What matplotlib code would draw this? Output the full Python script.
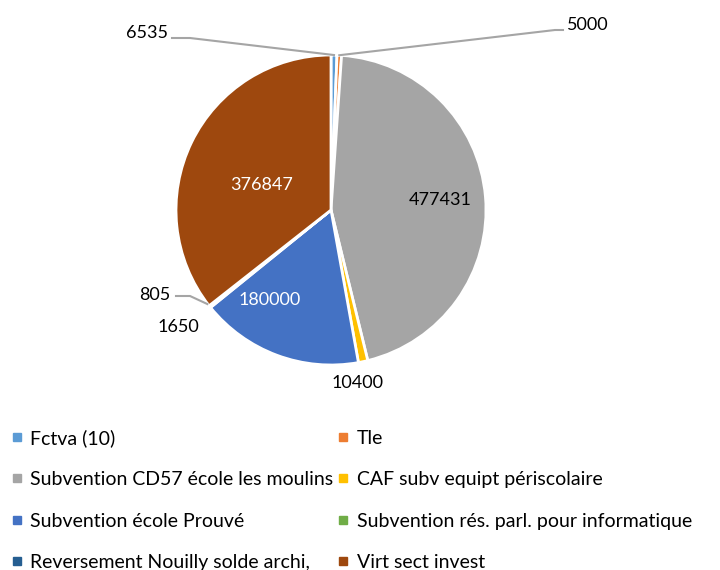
import matplotlib.pyplot as plt
from matplotlib.lines import Line2D
import numpy as np

plt.rcParams['font.family'] = ['Lato', 'DejaVu Sans']

labels = ["Fctva (10)", "Tle", "Subvention CD57 école les moulins",
          "CAF subv equipt périscolaire", "Subvention école Prouvé",
          "Subvention rés. parl. pour informatique",
          "Reversement Nouilly solde archi,", "Virt sect invest"]
values = [6535, 5000, 477431, 10400, 180000, 1650, 805, 376847]
colors = ["#5B9BD5", "#ED7D31", "#A5A5A5", "#FFC000", "#4472C4",
          "#70AD47", "#255E91", "#9E480E"]

# pixel-like layout: figure 720x570, y measured upward
W, H = 720, 570
cx, cy, R = 331, H - 210, 155

fig = plt.figure(figsize=(7.2, 5.7), dpi=100)
ax = fig.add_axes([0, 0, 1, 1])
wedges, _ = ax.pie(values, colors=colors, startangle=90, counterclock=False,
                   radius=R, center=(cx, cy),
                   wedgeprops=dict(edgecolor="white", linewidth=2))
ax.set_xlim(0, W)
ax.set_ylim(0, H)
ax.set_aspect('equal')
ax.axis('off')


def edge_point(w, frac=1.0):
    ang = np.deg2rad((w.theta1 + w.theta2) / 2)
    return cx + frac * R * np.cos(ang), cy + frac * R * np.sin(ang)


fs = 13
# inside labels
ax.text(440, H - 200, "477431", fontsize=fs, ha='center', va='center', color='black')
ax.text(262, H - 185, "376847", fontsize=fs, ha='center', va='center', color='white')
ax.text(270, H - 300, "180000", fontsize=fs, ha='center', va='center', color='white')

# outside labels
line_kw = dict(color="#A5A5A5", lw=1.5)
x0, y0 = edge_point(wedges[0])
ax.plot([x0, 190, 172], [y0, H - 38, H - 38], **line_kw)
ax.text(168, H - 33, "6535", fontsize=fs, ha='right', va='center')

x1, y1 = edge_point(wedges[1])
ax.plot([x1, 555, 563], [y1, H - 30, H - 30], **line_kw)
ax.text(567, H - 25, "5000", fontsize=fs, ha='left', va='center')

ax.text(358, H - 383, "10400", fontsize=fs, ha='center', va='center')
ax.text(178, H - 327, "1650", fontsize=fs, ha='center', va='center')

x6, y6 = edge_point(wedges[6])
ax.plot([x6 - 2, 190, 176], [y6 + 2, H - 296, H - 296], **line_kw)
ax.text(155, H - 295, "805", fontsize=fs, ha='center', va='center')

# legend filled row by row like the original
order = [0, 2, 4, 6, 1, 3, 5, 7]
handles = [Line2D([], [], marker='s', ls='', color=colors[i], markersize=6) for i in order]
fig.legend(handles, [labels[i] for i in order], ncol=2, loc='upper left',
           bbox_to_anchor=(4 / W, 1 - 421 / H), borderaxespad=0,
           frameon=False, fontsize=14,
           handlelength=0.5, handletextpad=0.45, labelspacing=1.26,
           columnspacing=0.25)

fig.savefig("out.png", dpi=100)
